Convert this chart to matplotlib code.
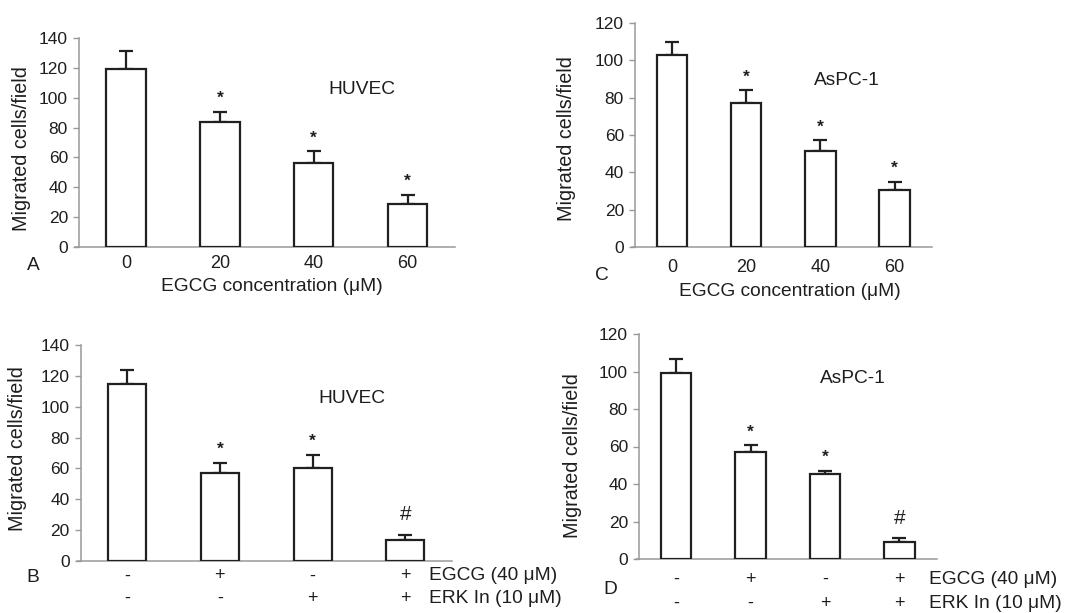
import matplotlib.pyplot as plt
import numpy as np

plt.rcParams['font.family'] = ['Liberation Sans', 'DejaVu Sans']

# panel A / C: EGCG dose
conc_labels = ['0', '20', '40', '60']
huvec_dose = [119, 83.5, 56.5, 29]
huvec_dose_err = [12.5, 7, 7.5, 6]
aspc_dose = [103, 77.3, 51.6, 30.5]
aspc_dose_err = [6.7, 6.8, 5.7, 4.5]

# panel B / D: EGCG +/- ERK inhibitor
egcg_row = ['-', '+', '-', '+']
erk_row = ['-', '-', '+', '+']
huvec_erk = [115, 57, 60.5, 13.5]
huvec_erk_err = [9, 6.2, 8.3, 3]
aspc_erk = [99.2, 57.2, 45.5, 9.2]
aspc_erk_err = [7.6, 3.6, 1.6, 1.8]

marks_dose = ['', '*', '*', '*']
marks_erk = ['', '*', '*', '#']

W, H = 1071, 613
fig = plt.figure(figsize=(W / 100, H / 100), dpi=100)
TXT = '#1e1e1e'
AXC = '#999999'


def make_axes(spine_x, right_x, base_y, top_y, ymax, ext=0.04):
    unit = (right_x - spine_x) / 4.0
    left_px = spine_x - ext * unit
    ax = fig.add_axes([left_px / W, 1 - base_y / H,
                       (right_x - left_px) / W, (base_y - top_y) / H])
    ax.set_xlim(-0.5 - ext, 3.5)
    ax.set_ylim(0, ymax)
    ax.spines['left'].set_position(('data', -0.5))
    for s in ['top', 'right']:
        ax.spines[s].set_visible(False)
    for s in ['left', 'bottom']:
        ax.spines[s].set_color(AXC)
        ax.spines[s].set_linewidth(1.1)
    ax.set_yticks(np.arange(0, ymax + 1, 20))
    ax.tick_params(axis='y', direction='out', length=4, width=1, color=AXC,
                   labelsize=12.5, labelcolor=TXT, pad=4)
    ax.patch.set_alpha(0)
    return ax


def draw_bars(ax, vals, errs, marks, width, gap):
    x = np.arange(len(vals))
    ax.bar(x, vals, width=width, color='white', edgecolor='#202020', linewidth=1.6, zorder=3)
    ax.errorbar(x, vals, yerr=[np.zeros(len(vals)), errs], fmt='none',
                ecolor='#202020', elinewidth=1.6, capsize=5, capthick=1.6, zorder=2)
    for xi, v, e, m in zip(x, vals, errs, marks):
        if m == '*':
            ax.text(xi, v + e + gap, m, ha='center', va='center', fontsize=12.5,
                    color=TXT, fontweight='bold')
        elif m == '#':
            ax.text(xi, v + e + gap * 1.5, m, ha='center', va='center', fontsize=15, color=TXT)


def ftext(x, y, s, **kw):
    kw.setdefault('color', TXT)
    kw.setdefault('fontsize', 13.8)
    fig.text(x / W, 1 - y / H, s, ha=kw.pop('ha', 'center'), va=kw.pop('va', 'center'), **kw)


def row_labels(ax, y1, y2, xtxt):
    tr = ax.get_xaxis_transform()
    for i, (a, b) in enumerate(zip(egcg_row, erk_row)):
        ax.text(i, y1, a, transform=tr, ha='center', va='center', fontsize=13, color=TXT)
        ax.text(i, y2, b, transform=tr, ha='center', va='center', fontsize=13, color=TXT)
    ax.text(xtxt, y1, 'EGCG (40 \u03bcM)', transform=tr, ha='left', va='center',
            fontsize=13.8, color=TXT)
    ax.text(xtxt, y2, 'ERK In (10 \u03bcM)', transform=tr, ha='left', va='center',
            fontsize=13.8, color=TXT)


# ---- A ----
axA = make_axes(79, 454.5, 247, 38, 140)
draw_bars(axA, huvec_dose, huvec_dose_err, marks_dose, 0.42, 9)
axA.set_xticks(range(4))
axA.set_xticklabels(conc_labels)
axA.tick_params(axis='x', length=0, labelsize=13, labelcolor=TXT, pad=6)
ftext(362, 89, 'HUVEC')
ftext(22, 149, 'Migrated cells/field', rotation=90, fontsize=14.2)
ftext(272, 287, 'EGCG concentration (\u03bcM)')
ftext(33, 265, 'A')

# ---- C ----
axC = make_axes(635, 931.7, 247, 23, 120)
draw_bars(axC, aspc_dose, aspc_dose_err, marks_dose, 0.41, 7)
axC.set_xticks(range(4))
axC.set_xticklabels(conc_labels)
axC.tick_params(axis='x', length=0, labelsize=13, labelcolor=TXT, pad=8.5)
ftext(846.7, 80.7, 'AsPC-1')
ftext(566, 139, 'Migrated cells/field', rotation=90, fontsize=14.2)
ftext(790, 291.7, 'EGCG concentration (\u03bcM)')
ftext(602, 276, 'C')

# ---- B ----
axB = make_axes(80.7, 451.7, 560.7, 345.3, 140)
draw_bars(axB, huvec_erk, huvec_erk_err, marks_erk, 0.41, 9)
axB.set_xticks([])
row_labels(axB, -0.071, -0.175, 3.25)
ftext(351.7, 398.3, 'HUVEC')
ftext(18, 449, 'Migrated cells/field', rotation=90, fontsize=14.2)
ftext(33, 578, 'B')

# ---- D ----
axD = make_axes(639, 936.7, 559, 334, 120)
draw_bars(axD, aspc_erk, aspc_erk_err, marks_erk, 0.41, 7)
axD.set_xticks([])
row_labels(axD, -0.090, -0.197, 3.40)
ftext(853.3, 378.3, 'AsPC-1')
ftext(573, 456, 'Migrated cells/field', rotation=90, fontsize=14.2)
ftext(610, 590, 'D')

fig.savefig('out.png', dpi=100)
